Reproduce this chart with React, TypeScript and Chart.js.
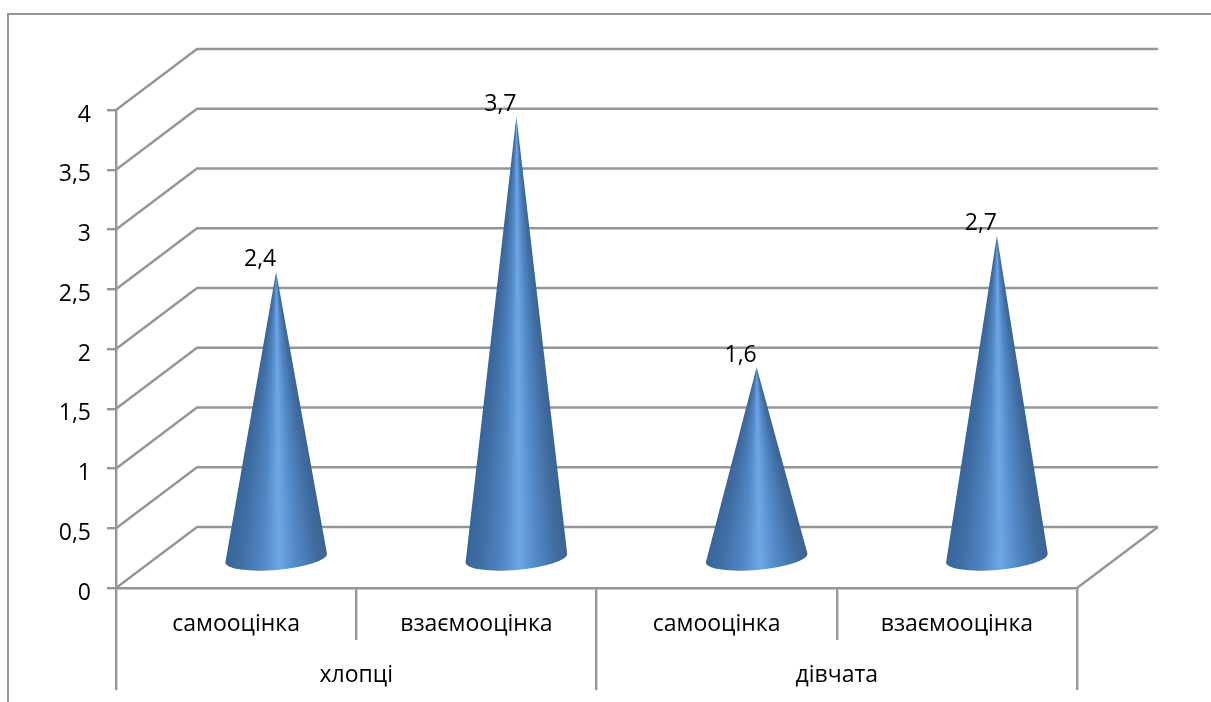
import React, { useEffect, useRef } from "react";
import { Chart, registerables } from "chart.js";

Chart.register(...registerables);

const categories = ["самооцінка", "взаємооцінка", "самооцінка", "взаємооцінка"];
const groups = ["хлопці", "дівчата"];
const seriesValues = [2.4, 3.7, 1.6, 2.7];
const valueLabels = ["2,4", "3,7", "1,6", "2,7"];

const FONT_FAMILY = '"Open Sans", "Noto Sans", sans-serif';
const FONT_SIZE = 23;
const GRID = "#969696";
const LINE_WIDTH = 2.4;
const DEPTH_X = 81;
const DEPTH_Y = 61;
const CONE_RX = 51;

const wallsPlugin = {
  id: "walls",
  beforeDatasetsDraw(chart: any) {
    const { ctx, scales } = chart;
    const y = scales.y;
    const x = scales.x;
    const left = x.left;
    const right = x.right;
    ctx.save();
    ctx.lineWidth = 2;
    ctx.strokeStyle = GRID;
    ctx.beginPath();
    ctx.moveTo(8, 702);
    ctx.lineTo(8, 14);
    ctx.lineTo(1211, 14);
    ctx.stroke();
    ctx.lineWidth = LINE_WIDTH;
    y.ticks.forEach((t: any) => {
      const py = y.getPixelForValue(t.value);
      ctx.beginPath();
      ctx.moveTo(left, py);
      ctx.lineTo(left + DEPTH_X, py - DEPTH_Y);
      ctx.lineTo(right + DEPTH_X, py - DEPTH_Y);
      ctx.stroke();
    });
    const p0 = y.getPixelForValue(0);
    ctx.beginPath();
    ctx.moveTo(right + DEPTH_X, p0 - DEPTH_Y);
    ctx.lineTo(right, p0);
    ctx.stroke();
    ctx.restore();
  },
  afterDatasetsDraw(chart: any) {
    const { ctx, scales } = chart;
    const y = scales.y;
    const meta = chart.getDatasetMeta(0);
    const p0 = y.getPixelForValue(0);
    const angle = -0.088;
    meta.data.forEach((bar: any, i: number) => {
      const cx = bar.x + DEPTH_X / 2 - 0.5;
      const cy = p0 - DEPTH_Y / 2;
      const tipY = bar.y - DEPTH_Y / 2 + 1;
      const lx = cx - CONE_RX * Math.cos(angle);
      const ly = cy - CONE_RX * Math.sin(angle) + 0.5;
      ctx.save();
      ctx.beginPath();
      ctx.moveTo(cx, tipY);
      ctx.lineTo(lx, ly);
      ctx.ellipse(cx, cy + 0.5, CONE_RX, 12, angle, Math.PI, 0, true);
      ctx.closePath();
      ctx.clip();
      // shading follows the cone's taper, so every row gets its own gradient
      const bottom = Math.ceil(cy + 15);
      for (let row = Math.floor(tipY); row < bottom; row++) {
        const t = Math.min(1, Math.max(0.02, (row - tipY) / (cy - tipY)));
        const w = CONE_RX * t;
        const g = ctx.createLinearGradient(cx - w, 0, cx + w, 0);
        g.addColorStop(0, "#37659a");
        g.addColorStop(0.16, "#406fa6");
        g.addColorStop(0.38, "#5288c6");
        g.addColorStop(0.53, "#6ea7e7");
        g.addColorStop(0.7, "#5288c6");
        g.addColorStop(0.9, "#406c9f");
        g.addColorStop(1, "#3a6494");
        ctx.fillStyle = g;
        ctx.fillRect(cx - CONE_RX - 2, row, CONE_RX * 2 + 4, 1);
      }
      ctx.restore();

      ctx.save();
      ctx.fillStyle = "#000";
      ctx.font = `${FONT_SIZE}px ${FONT_FAMILY}`;
      ctx.textAlign = "center";
      ctx.textBaseline = "middle";
      ctx.fillText(valueLabels[i], cx - 16, tipY - 12);
      ctx.restore();
    });
  },
};

export default function App() {
  const ref = useRef<HTMLCanvasElement | null>(null);

  useEffect(() => {
    const chart = new Chart(ref.current as HTMLCanvasElement, {
      type: "bar",
      data: {
        labels: categories,
        datasets: [
          {
            data: seriesValues,
            backgroundColor: "rgba(0,0,0,0)",
            xAxisID: "x",
            yAxisID: "y",
          },
        ],
      },
      plugins: [wallsPlugin],
      options: {
        responsive: false,
        animation: false,
        devicePixelRatio: 1,
        layout: { padding: { top: 110, right: 134, bottom: 12, left: 0 } },
        plugins: { legend: { display: false }, tooltip: { enabled: false }, title: { display: false } },
        scales: {
          y: {
            min: 0,
            max: 4,
            afterFit(s: any) {
              s.width = 116;
            },
            border: { color: GRID, width: LINE_WIDTH },
            grid: { drawOnChartArea: false, color: GRID, lineWidth: LINE_WIDTH, tickLength: 9 },
            ticks: {
              stepSize: 0.5,
              color: "#000",
              padding: 16,
              labelOffset: 5,
              font: { family: FONT_FAMILY, size: FONT_SIZE },
              callback: (v: any) => String(v).replace(".", ","),
            },
          },
          x: {
            type: "category",
            position: "bottom",
            offset: true,
            afterFit(s: any) {
              s.height = 52;
            },
            border: { color: GRID, width: LINE_WIDTH },
            grid: { offset: true, drawOnChartArea: false, color: GRID, lineWidth: LINE_WIDTH, tickLength: 52 },
            ticks: {
              color: "#000",
              padding: -29,
              maxRotation: 0,
              autoSkip: false,
              font: { family: FONT_FAMILY, size: FONT_SIZE },
            },
          },
          x2: {
            type: "category",
            position: "bottom",
            labels: groups,
            offset: true,
            afterFit(s: any) {
              s.height = 50;
            },
            border: { display: false },
            grid: { offset: true, drawOnChartArea: false, color: GRID, lineWidth: LINE_WIDTH, tickLength: 50 },
            ticks: {
              color: "#000",
              padding: -28,
              maxRotation: 0,
              autoSkip: false,
              font: { family: FONT_FAMILY, size: FONT_SIZE },
            },
          },
        },
      },
    } as any);
    return () => chart.destroy();
  }, []);

  return (
    <div style={{ position: "fixed", left: 0, top: 0, width: 1211, height: 702, background: "#fff" }}>
      <canvas ref={ref} width={1211} height={702} style={{ display: "block", width: 1211, height: 702 }} />
    </div>
  );
}
